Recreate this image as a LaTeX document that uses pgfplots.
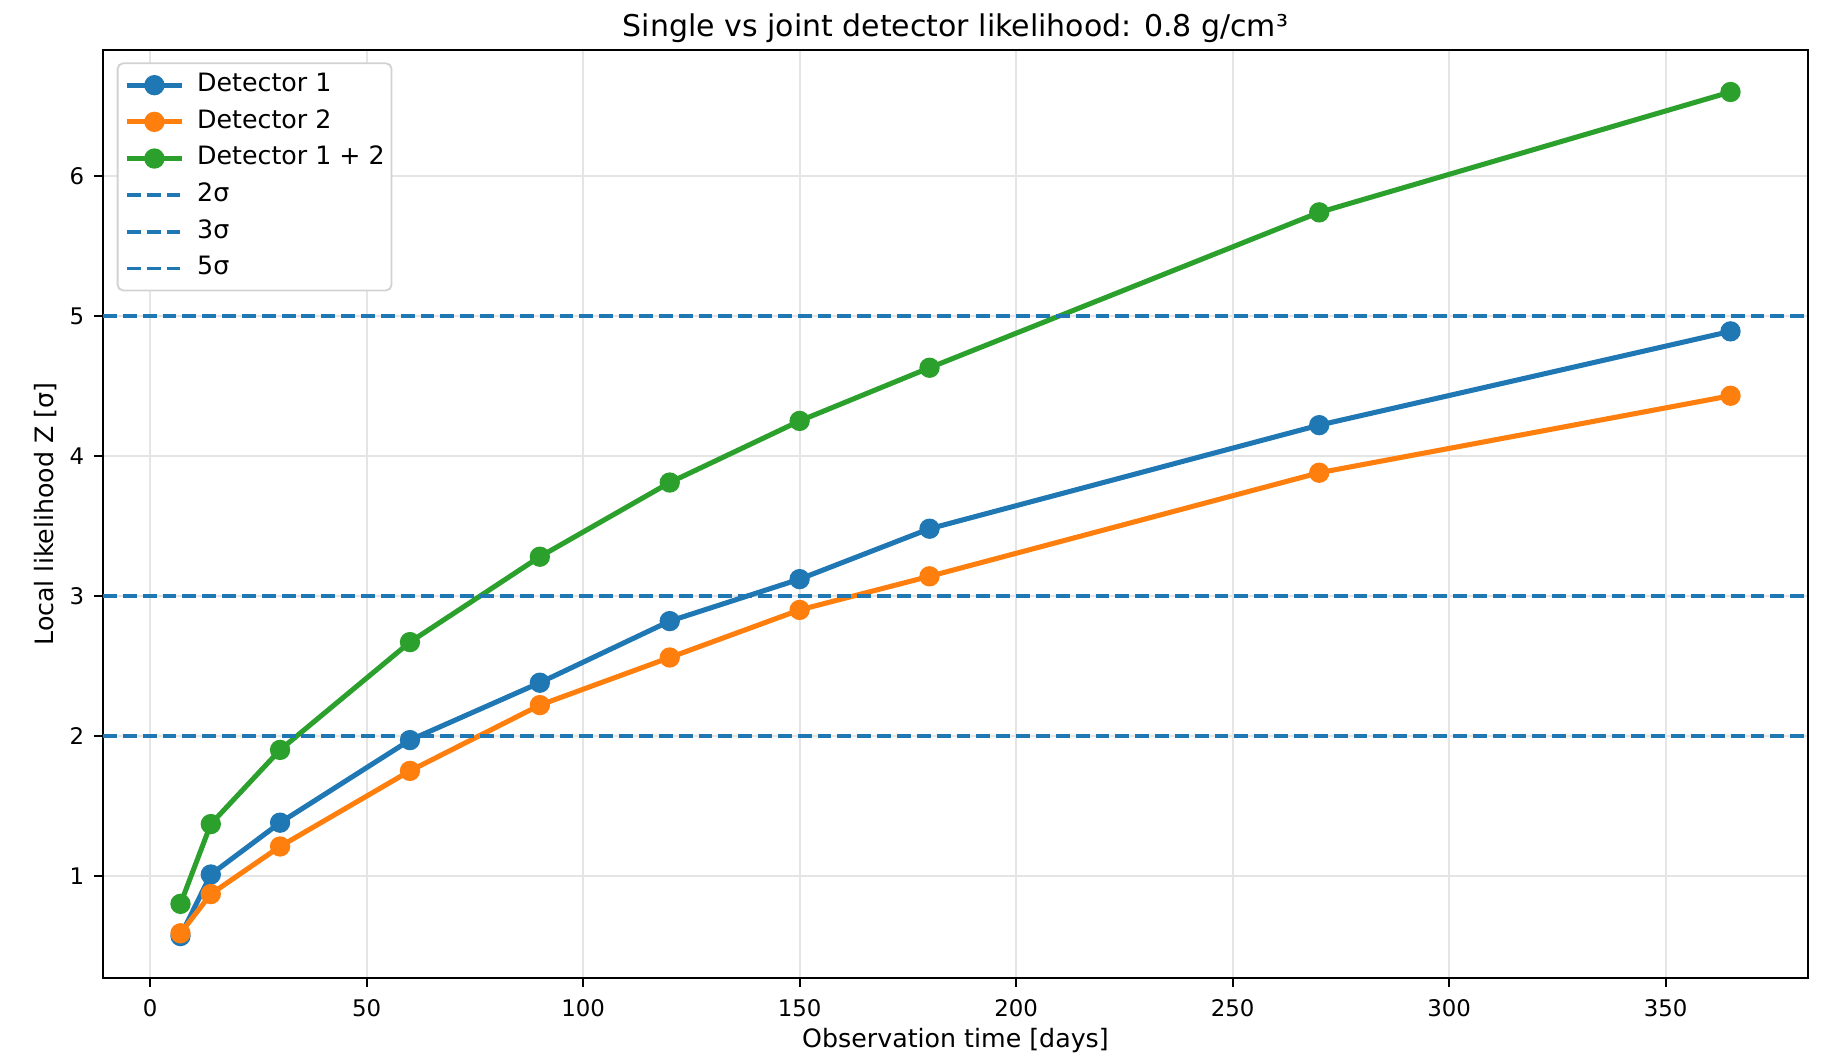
\documentclass[border=0pt]{standalone}
\usepackage{fontspec}
\setmainfont{DejaVu Sans}
\usepackage{pgfplots}
\pgfplotsset{compat=1.18}

\definecolor{tabblue}{HTML}{1F77B4}
\definecolor{taborange}{HTML}{FF7F0E}
\definecolor{tabgreen}{HTML}{2CA02C}

\begin{document}
\begin{tikzpicture}
\begin{axis}[
  scale only axis,
  width=455.24pt, height=247.8pt,
  xmin=-10.9, xmax=382.9,
  ymin=0.27, ymax=6.9,
  xtick={0,50,100,150,200,250,300,350},
  ytick={1,2,3,4,5,6},
  tick pos=left,
  tick align=outside,
  major tick length=2.36pt,
  tick style={black, line width=0.55pt},
  axis line style={black, line width=0.7pt},
  grid=major,
  grid style={gray!20, line width=0.55pt},
  /pgf/number format/assume math mode=true,
  ticklabel style={font=\fontsize{6.1}{7}\selectfont, inner sep=0pt},
  xticklabel style={anchor=north, yshift=-3.1pt},
  yticklabel style={anchor=east, xshift=-2.45pt},
  xlabel={Observation time [days]},
  ylabel={Local likelihood Z [σ]},
  every axis x label/.style={at={(axis description cs:0.5,0)}, anchor=base,
    yshift=-18.6pt, font=\fontsize{6.75}{8}\selectfont, inner sep=0pt},
  every axis y label/.style={at={(axis description cs:-0.0292,0.5)}, anchor=base,
    rotate=90, font=\fontsize{6.75}{8}\selectfont, inner sep=0pt},
  title={Single vs joint detector likelihood: 0.8 g/cm³},
  every axis title/.style={at={(axis description cs:0.5,1)}, anchor=base,
    yshift=3.5pt, font=\fontsize{8}{10}\selectfont, inner sep=0pt},
  legend cell align=left,
  legend style={
    font=\fontsize{6.75}{8}\selectfont,
    draw=gray!35, line width=0.5pt, rounded corners=1.5pt,
    at={(axis description cs:0,1)}, anchor=north west,
    xshift=3.65pt, yshift=-3.3pt,
    inner xsep=1.8pt, inner ysep=2.6pt,
    row sep=3.29pt, column sep=3.4pt,
    nodes={inner sep=0pt, text height=4.9pt, text depth=1.6pt},
  },
  legend image code/.code={
    \draw[mark repeat=2,mark phase=2]
      plot coordinates {(0pt,0pt) (7.35pt,0pt) (14.7pt,0pt)};
  },
  every axis plot/.append style={line width=1.35pt},
  mark options={solid},
]
\addplot[tabblue, mark=*, mark size=2.03pt] coordinates {
  (7,0.57) (14,1.01) (30,1.38) (60,1.97) (90,2.38)
  (120,2.82) (150,3.12) (180,3.48) (270,4.22) (365,4.89)
};
\addlegendentry{Detector 1}
\addplot[taborange, mark=*, mark size=2.03pt] coordinates {
  (7,0.59) (14,0.87) (30,1.21) (60,1.75) (90,2.22)
  (120,2.56) (150,2.90) (180,3.14) (270,3.88) (365,4.43)
};
\addlegendentry{Detector 2}
\addplot[tabgreen, mark=*, mark size=2.03pt] coordinates {
  (7,0.80) (14,1.37) (30,1.90) (60,2.67) (90,3.28)
  (120,3.81) (150,4.25) (180,4.63) (270,5.74) (365,6.60)
};
\addlegendentry{Detector 1 + 2}
% significance thresholds
\addplot[tabblue, line width=1.0pt, dash pattern=on 3.7pt off 1.6pt] coordinates {(-10.9,2) (382.9,2)};
\addlegendentry{2σ}
\addplot[tabblue, line width=1.0pt, dash pattern=on 3.7pt off 1.6pt] coordinates {(-10.9,3) (382.9,3)};
\addlegendentry{3σ}
\addplot[tabblue, line width=1.0pt, dash pattern=on 3.7pt off 1.6pt] coordinates {(-10.9,5) (382.9,5)};
\addlegendentry{5σ}
\end{axis}
\pgfresetboundingbox
\path ([xshift=-27.5pt,yshift=-21.1pt]current axis.south west)
  rectangle ([xshift=3.74pt,yshift=13.35pt]current axis.north east);
\end{tikzpicture}
\end{document}
